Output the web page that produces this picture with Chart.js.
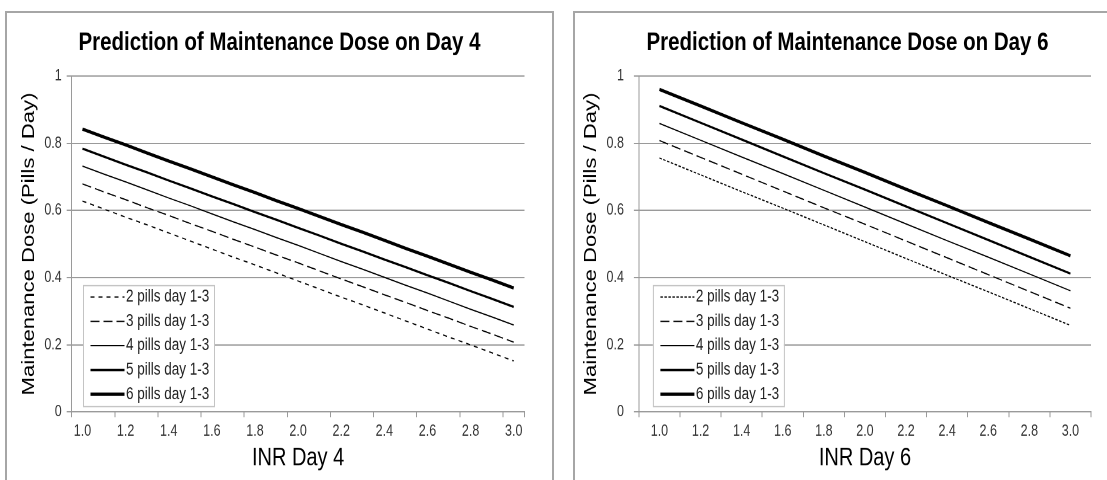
<!DOCTYPE html>
<html lang="en">
<head>
<meta charset="UTF-8">
<title>Prediction of Maintenance Dose</title>
<script src="https://cdn.jsdelivr.net/npm/chart.js"></script>
<style>
  body { margin: 0; width: 1107px; height: 480px; overflow: hidden; background: #fff; position: relative; }
  .box { position: absolute; top: 11px; width: 549px; height: 490px; border: 2px solid #a6a6a6; box-sizing: border-box; overflow: hidden; background: #fff; }
  /* the original picture is stretched vertically, so the canvas is too */
  .stretch { width: 545px; height: 372px; transform: scaleY(1.26); transform-origin: 0 0; }
  canvas { display: block; }
</style>
</head>
<body>
<div class="box" style="left:5px"><div class="stretch"><canvas id="day4Chart" width="545" height="372"></canvas></div></div>
<div class="box" style="left:573px"><div class="stretch"><canvas id="day6Chart" width="545" height="372"></canvas></div></div>
<script>
// INR on day 4, one category per 0.1
const inrDay4 = ['1.0', '1.1', '1.2', '1.3', '1.4', '1.5', '1.6', '1.7', '1.8', '1.9', '2.0',
                 '2.1', '2.2', '2.3', '2.4', '2.5', '2.6', '2.7', '2.8', '2.9', '3.0'];
const day4Pills2 = [0.628, 0.604, 0.580, 0.557, 0.533, 0.509, 0.485, 0.461, 0.438, 0.414, 0.390,
                    0.366, 0.342, 0.319, 0.295, 0.271, 0.247, 0.223, 0.200, 0.176, 0.152];
const day4Pills3 = [0.679, 0.655, 0.632, 0.608, 0.585, 0.561, 0.538, 0.514, 0.491, 0.467, 0.444,
                    0.420, 0.396, 0.373, 0.349, 0.326, 0.302, 0.279, 0.255, 0.232, 0.208];
const day4Pills4 = [0.732, 0.708, 0.685, 0.661, 0.637, 0.614, 0.590, 0.566, 0.543, 0.519, 0.496,
                    0.472, 0.448, 0.425, 0.401, 0.377, 0.354, 0.330, 0.306, 0.283, 0.259];
const day4Pills5 = [0.784, 0.760, 0.736, 0.713, 0.689, 0.666, 0.642, 0.619, 0.595, 0.572, 0.548,
                    0.525, 0.501, 0.478, 0.454, 0.431, 0.407, 0.384, 0.360, 0.337, 0.313];
const day4Pills6 = [0.842, 0.818, 0.795, 0.771, 0.747, 0.724, 0.700, 0.676, 0.653, 0.629, 0.606,
                    0.582, 0.558, 0.535, 0.511, 0.487, 0.464, 0.440, 0.416, 0.393, 0.369];

// INR on day 6, one category per 0.2
const inrDay6 = ['1.0', '1.2', '1.4', '1.6', '1.8', '2.0', '2.2', '2.4', '2.6', '2.8', '3.0'];
const day6Pills2 = [0.756, 0.706, 0.656, 0.607, 0.557, 0.507, 0.457, 0.407, 0.358, 0.308, 0.258];
const day6Pills3 = [0.808, 0.758, 0.708, 0.658, 0.608, 0.559, 0.509, 0.459, 0.409, 0.359, 0.309];
const day6Pills4 = [0.859, 0.809, 0.759, 0.710, 0.660, 0.610, 0.560, 0.510, 0.461, 0.411, 0.361];
const day6Pills5 = [0.911, 0.861, 0.811, 0.761, 0.711, 0.662, 0.612, 0.562, 0.512, 0.462, 0.412];
const day6Pills6 = [0.960, 0.911, 0.861, 0.812, 0.762, 0.713, 0.663, 0.614, 0.564, 0.515, 0.465];

const seriesNames = ['2 pills day 1-3', '3 pills day 1-3', '4 pills day 1-3', '5 pills day 1-3', '6 pills day 1-3'];

const GRAY = '#9a9a9a';
Chart.defaults.font.family = '"Liberation Sans", Arial, sans-serif';
Chart.defaults.color = '#333';

// Excel style legend: white box inside the plot, bottom left
const boxLegend = {
    id: 'boxLegend',
    afterDraw(chart, args, opts) {
        const { ctx, chartArea } = chart;
        const x = chartArea.left + opts.left;
        const y = chartArea.bottom - opts.bottom - opts.height;
        ctx.save();
        ctx.fillStyle = '#fff';
        ctx.fillRect(x, y, opts.width, opts.height);
        ctx.strokeStyle = '#c4c4c4';
        ctx.lineWidth = 1;
        ctx.strokeRect(x + 0.5, y + 0.5, opts.width, opts.height);
        chart.data.datasets.forEach((ds, i) => {
            const ly = y + opts.first + i * opts.step;
            ctx.beginPath();
            ctx.setLineDash(ds.borderDash || []);
            ctx.lineWidth = ds.borderWidth;
            ctx.strokeStyle = ds.borderColor;
            ctx.moveTo(x + 7.5, ly);
            ctx.lineTo(x + 41.5, ly);
            ctx.stroke();
            ctx.setLineDash([]);
            ctx.fillStyle = '#222';
            ctx.font = '13.5px "Liberation Sans", Arial, sans-serif';
            ctx.textBaseline = 'middle';
            ctx.fillText(ds.label, x + 43, ly);
        });
        ctx.restore();
    }
};

function makeChart(id, title, xTitle, labels, series, dashes, lay) {
    const widths = [1, 1, 1, 1.8, 2.6];
    return new Chart(document.getElementById(id), {
        type: 'line',
        data: {
            labels: labels,
            datasets: series.map((d, i) => ({
                label: seriesNames[i],
                data: d,
                borderColor: '#000',
                borderWidth: widths[i],
                borderDash: dashes[i],
                pointRadius: 0,
                fill: false,
                tension: 0
            }))
        },
        options: {
            responsive: false,
            animation: false,
            devicePixelRatio: 2,
            layout: { padding: 0 },
            plugins: {
                legend: { display: false },
                tooltip: { enabled: false },
                title: {
                    display: true,
                    text: title,
                    color: '#000',
                    font: { size: 20.5, weight: 'bold' },
                    padding: { top: 11.5, bottom: 13.9 }
                },
                boxLegend: { left: lay.legendLeft, bottom: 4.8, width: 131, height: 96, first: 9.5, step: 19.3 }
            },
            scales: {
                x: {
                    type: 'category',
                    offset: true,
                    grid: {
                        offset: true,
                        drawOnChartArea: false,
                        tickLength: 4,
                        tickColor: ctx => (ctx.index === undefined || ctx.index % lay.every === 0) ? GRAY : 'rgba(0,0,0,0)'
                    },
                    border: { color: GRAY },
                    ticks: {
                        autoSkip: false,
                        maxRotation: 0,
                        padding: 4,
                        font: { size: 12.5 },
                        callback: function (value, index) {
                            return index % lay.every === 0 ? this.getLabelForValue(value) : '';
                        }
                    },
                    title: {
                        display: true,
                        text: xTitle,
                        color: '#000',
                        font: { size: 20 },
                        padding: { top: 0, bottom: 6.4 }
                    },
                    afterFit: s => { s.height = 372 - 316.7; }
                },
                y: {
                    min: 0,
                    max: 1,
                    ticks: {
                        stepSize: 0.2,
                        padding: lay.yPad,
                        font: { size: 12.5 },
                        callback: v => (v === 0 || v === 1) ? String(v) : v.toFixed(1)
                    },
                    grid: { color: GRAY, tickLength: 5, tickColor: GRAY },
                    border: { color: GRAY },
                    title: {
                        display: true,
                        text: 'Maintenance Dose (Pills / Day)',
                        color: '#000',
                        font: { size: 17.5 },
                        padding: { top: lay.yTitle - 10.5, bottom: 0 }
                    },
                    afterFit: s => { s.width = lay.left; }
                },
                spacer: {
                    position: 'right',
                    display: true,
                    grid: { display: false },
                    border: { display: false },
                    ticks: { display: false },
                    afterFit: s => { s.width = lay.right; }
                }
            }
        },
        plugins: [boxLegend]
    });
}

makeChart('day4Chart', 'Prediction of Maintenance Dose on Day 4', 'INR Day 4', inrDay4,
    [day4Pills2, day4Pills3, day4Pills4, day4Pills5, day4Pills6],
    [[4, 4], [9, 4], [], [], []],
    { left: 64.7, right: 27.5, every: 2, yPad: 5, yTitle: 22, legendLeft: 11.3 });

makeChart('day6Chart', 'Prediction of Maintenance Dose on Day 6', 'INR Day 6', inrDay6,
    [day6Pills2, day6Pills3, day6Pills4, day6Pills5, day6Pills6],
    [[2.5, 1.5], [9, 4], [], [], []],
    { left: 63.9, right: 29, every: 1, yPad: 10, yTitle: 16, legendLeft: 14 });
</script>
</body>
</html>
